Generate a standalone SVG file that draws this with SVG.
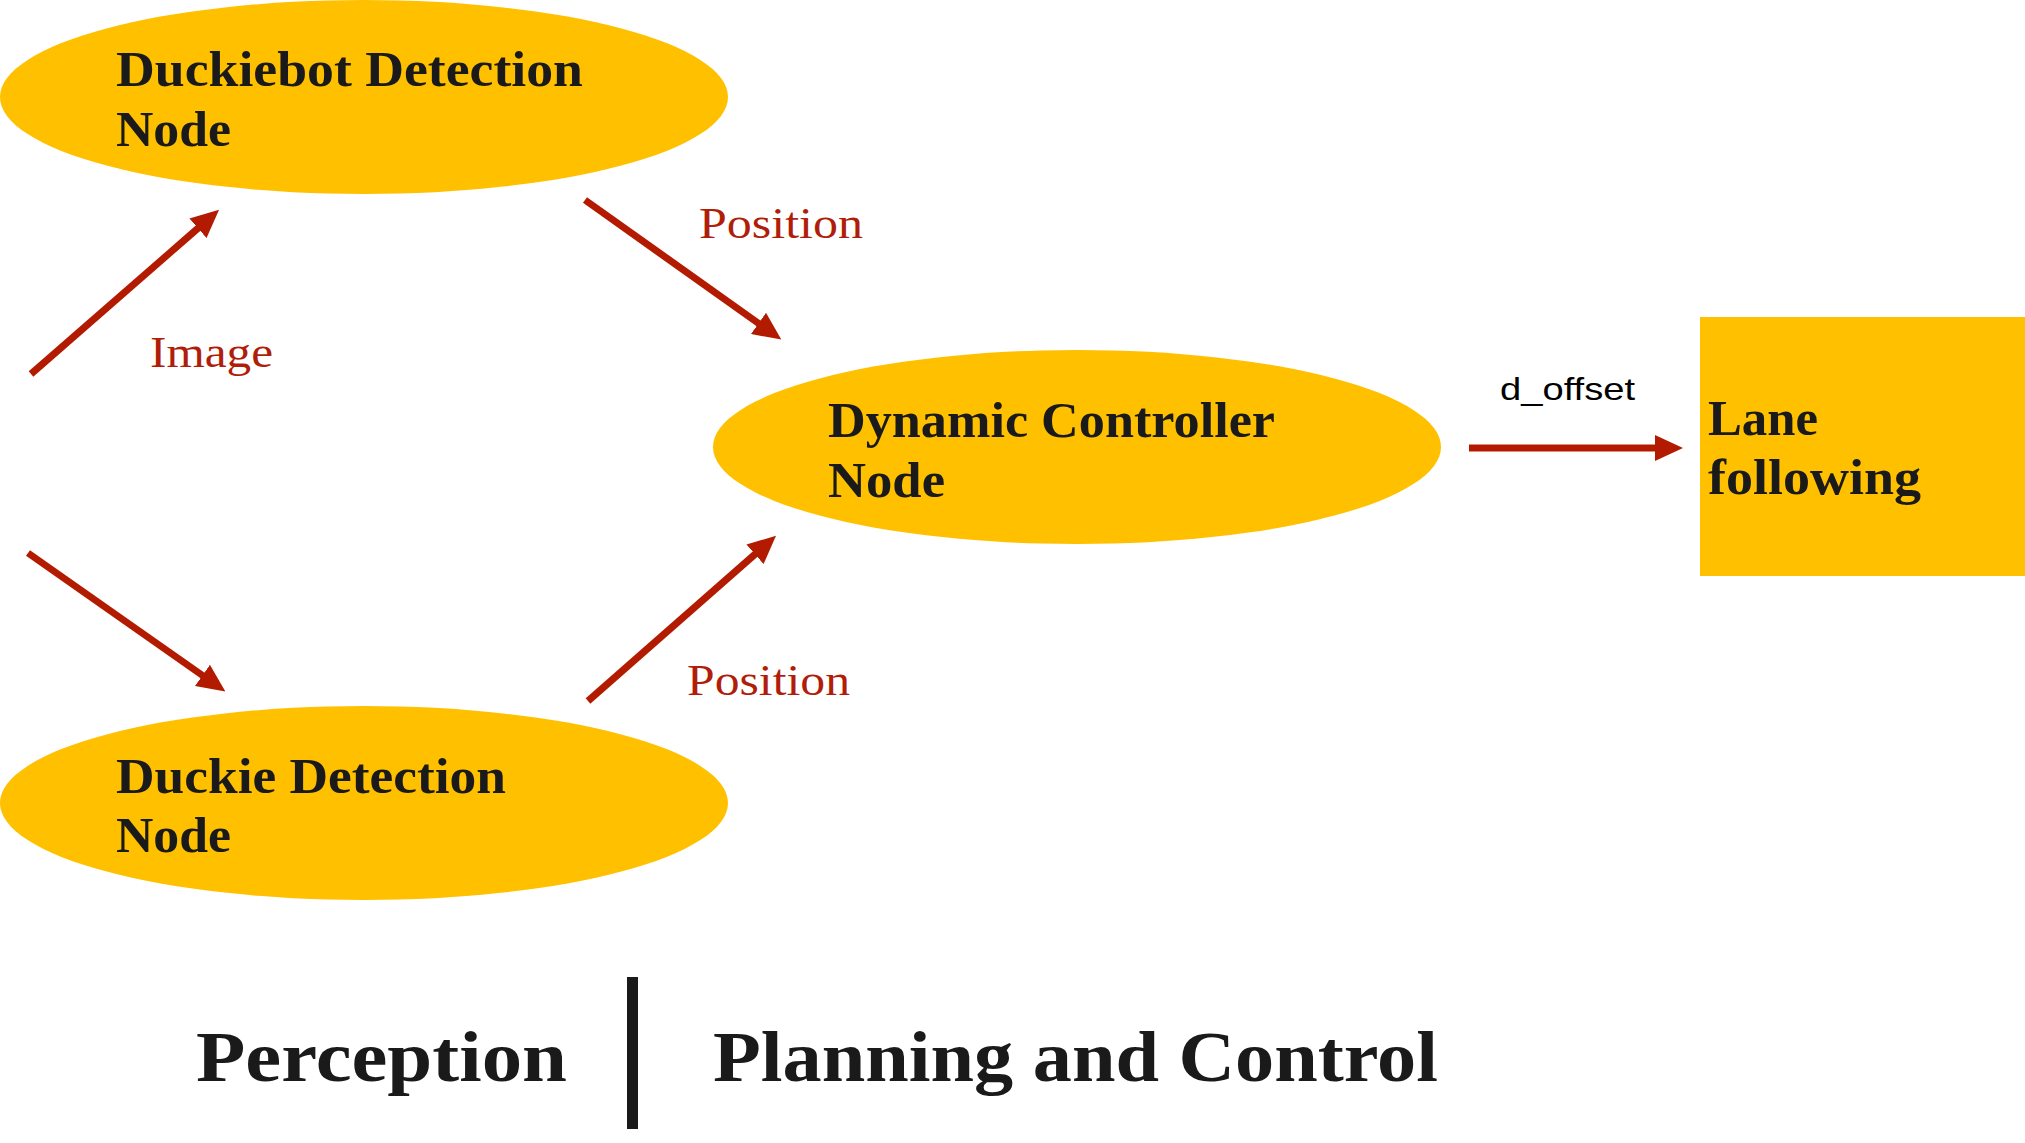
<svg xmlns="http://www.w3.org/2000/svg" width="2025" height="1143" viewBox="0 0 2025 1143">
<style>
.node{fill:#FFC000}
.nt{font-family:"Liberation Serif","DejaVu Serif",serif;font-weight:bold;font-size:50px;fill:#1a1a1a}
.lbl{font-family:"Liberation Serif","DejaVu Serif",serif;font-size:45px;fill:#B01E0A}
.sans{font-family:"Liberation Sans",Arial,sans-serif;font-size:32px;fill:#000}
.big{font-family:"Liberation Serif","DejaVu Serif",serif;font-weight:bold;font-size:72px;fill:#1a1a1a}
.conn{stroke:#B31B00;stroke-width:7;fill:none;marker-end:url(#ah)}
</style>
<defs>
<marker id="ah" markerUnits="userSpaceOnUse" viewBox="0 0 28 26" markerWidth="28" markerHeight="26" refX="8" refY="13" orient="auto">
<path d="M0,0 L28,13 L0,26 Z" fill="#B31B00"/>
</marker>
</defs>
<rect width="2025" height="1143" fill="#fff"/>
<g id="duckiebot-detection">
<ellipse class="node" cx="364" cy="97" rx="364" ry="97"/>
<text class="nt" x="116" y="86" textLength="467" lengthAdjust="spacingAndGlyphs">Duckiebot Detection</text>
<text class="nt" x="116" y="146" textLength="115" lengthAdjust="spacingAndGlyphs">Node</text>
</g>
<g id="duckie-detection">
<ellipse class="node" cx="364" cy="803" rx="364" ry="97"/>
<text class="nt" x="116" y="793" textLength="390" lengthAdjust="spacingAndGlyphs">Duckie Detection</text>
<text class="nt" x="116" y="852" textLength="115" lengthAdjust="spacingAndGlyphs">Node</text>
</g>
<g id="dynamic-controller">
<ellipse class="node" cx="1077" cy="447" rx="364" ry="97"/>
<text class="nt" x="828" y="437" textLength="447" lengthAdjust="spacingAndGlyphs">Dynamic Controller</text>
<text class="nt" x="828" y="497" textLength="117" lengthAdjust="spacingAndGlyphs">Node</text>
</g>
<g id="lane-following">
<rect class="node" x="1700" y="317" width="330" height="259"/>
<text class="nt" x="1708" y="435" textLength="110" lengthAdjust="spacingAndGlyphs">Lane</text>
<text class="nt" x="1708" y="494" textLength="213" lengthAdjust="spacingAndGlyphs">following</text>
</g>
<g id="connectors">
<path class="conn" d="M31,374 L204,223"/>
<path class="conn" d="M585,200 L765,328"/>
<path class="conn" d="M28,553 L209,680"/>
<path class="conn" d="M588,701 L761,549"/>
<path class="conn" d="M1469,448 L1663,448"/>
<text class="lbl" x="150" y="367" textLength="123" lengthAdjust="spacingAndGlyphs">Image</text>
<text class="lbl" x="699" y="238" textLength="164" lengthAdjust="spacingAndGlyphs">Position</text>
<text class="lbl" x="687" y="695" textLength="163" lengthAdjust="spacingAndGlyphs">Position</text>
<text class="sans" x="1500" y="400" textLength="135" lengthAdjust="spacingAndGlyphs">d_offset</text>
</g>
<g id="footer">
<text class="big" x="196" y="1081" textLength="371" lengthAdjust="spacingAndGlyphs">Perception</text>
<rect x="627" y="977" width="11" height="152" fill="#1a1a1a"/>
<text class="big" x="713" y="1081" textLength="725" lengthAdjust="spacingAndGlyphs">Planning and Control</text>
</g>
</svg>
